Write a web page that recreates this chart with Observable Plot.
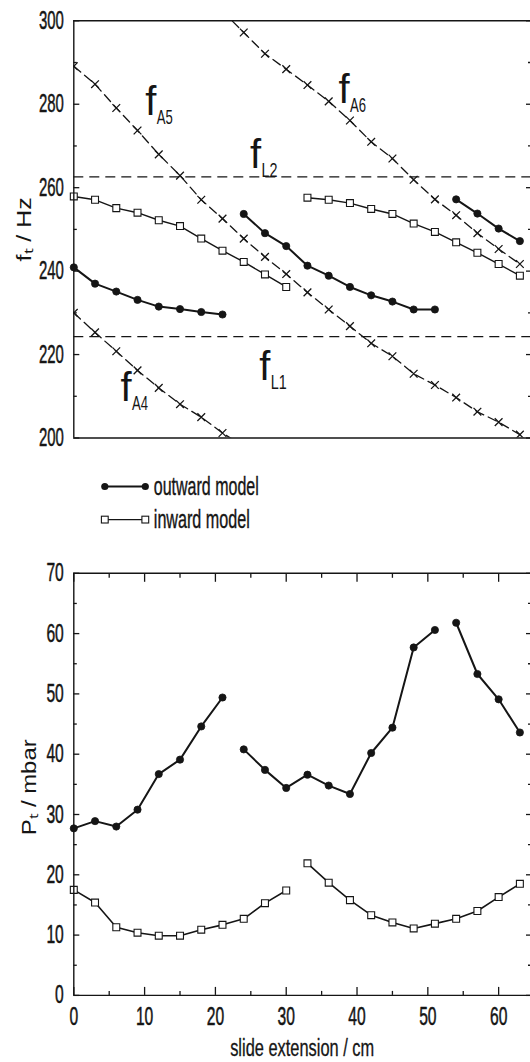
<!DOCTYPE html>
<html><head><meta charset="utf-8">
<script src="https://cdn.jsdelivr.net/npm/d3@7"></script>
<script src="https://cdn.jsdelivr.net/npm/@observablehq/plot@0.6"></script>
<style>
body{margin:0;background:#fff;}
#wrap{position:relative;width:530px;height:1062px;overflow:hidden;background:#fff;}
#wrap > *{position:absolute;left:0;}
</style></head><body><div id="wrap"></div>
<script>
// ---------- data ----------
const slidePositions = [0,3,6,9,12,15,18,21,24,27,30,33,36,39,42,45,48,51,54,57,60,63];
const outwardSegment = [1,1,1,1,1,1,1,1, 2,2,2,2,2,2,2,2,2,2, 3,3,3,3];
const inwardSegment  = [1,1,1,1,1,1,1,1,1,1,1, 2,2,2,2,2,2,2,2,2,2,2];

// threshold frequency f_t / Hz
const outwardFreq = [240.9,237.0,235.1,233.1,231.5,230.9,230.2,229.6, 253.7,249.1,246.0,241.3,238.9,236.2,234.2,232.7,230.8,230.8, 257.2,253.8,250.2,247.2];
const inwardFreq  = [257.9,257.1,255.1,254.0,252.2,250.8,247.8,244.9,242.2,239.2,236.2, 257.6,257.1,256.3,254.9,253.7,251.4,249.4,246.9,244.4,241.7,238.9];

// resonance curves (dashed)
const fA5Slide = [0,3,6,9,12,15,18,21,24,27,30,33,36,39,42,45,48,51,54,57,60,63];
const fA5 = [289.1,284.8,279.1,273.7,268.0,262.9,257.1,252.6,247.8,243.4,239.3,234.9,230.8,226.8,222.7,219.6,215.4,212.7,209.7,206.3,203.8,200.8];
const fA4Slide = [0,3,6,9,12,15,18,21,24];
const fA4 = [230.0,225.3,220.8,216.2,212.0,208.1,205.0,201.2,198.0];
const fA6Slide = [21,24,27,30,33,36,39,42,45,48,51,54,57,60,63];
const fA6 = [302.3,297.2,292.1,288.4,284.6,280.7,276.1,271.0,267.0,261.9,257.2,253.4,249.1,245.3,241.7];
const fLNames = ["L1","L2"];
const fL = [224.3, 262.6];

// curve labels
const curveNames = ["A5","A6","L2","L1","A4"];
const curveLabelSlide = [10.1, 37.4, 24.9, 26.2, 6.6];
const curveLabelFreq  = [277.5, 280.4, 264.6, 214.0, 208.8];

// threshold pressure P_t / mbar
const outwardPressure = [27.7,28.9,28.0,30.8,36.7,39.1,44.6,49.4, 40.8,37.4,34.4,36.6,34.8,33.4,40.2,44.4,57.7,60.6, 61.8,53.3,49.1,43.6];
const inwardPressure  = [17.5,15.4,11.3,10.4,9.9,9.9,10.9,11.7,12.7,15.3,17.4, 21.9,18.7,15.8,13.3,12.1,11.1,11.9,12.7,14.0,16.3,18.5];

// ticks
const freqMajorTicks = [200,220,240,260,280,300];
const freqMinorTicks = [210,230,250,270,290];
const pressMajorTicks = [0,10,20,30,40,50,60,70];
const pressMinorTicks = [5,15,25,35,45,55,65];
const slideMajorTicks = [0,10,20,30,40,50,60];
const slideMinorTicks = [5,15,25,35,45,55];

const legendLabels = ["outward model","inward model"];
const freqTitle = "fₜ / Hz";
const pressTitle = "Pₜ / mbar";
const slideTitle = "slide extension / cm";

// ---------- helpers ----------
const INK = "#151515";
const FONT = '"Liberation Sans", Arial, Helvetica, sans-serif';
const rowsOf = (xs, ys, zs) => xs.map((x, i) => ({x, y: ys[i], z: zs ? zs[i] : 0}));

const outF = rowsOf(slidePositions, outwardFreq, outwardSegment);
const inF  = rowsOf(slidePositions, inwardFreq, inwardSegment);
const outP = rowsOf(slidePositions, outwardPressure, outwardSegment);
const inP  = rowsOf(slidePositions, inwardPressure, inwardSegment);
const a5 = rowsOf(fA5Slide, fA5), a4 = rowsOf(fA4Slide, fA4), a6 = rowsOf(fA6Slide, fA6);
const curveLabels = curveNames.map((n, i) => ({n, x: curveLabelSlide[i], y: curveLabelFreq[i]}));

// squeeze texts to the narrow type of the original
function fit(svg, widthFor) {
  svg.querySelectorAll("text").forEach(t => {
    const g = t.closest("g");
    const lab = g ? (g.getAttribute("aria-description") || g.getAttribute("aria-label") || "") : "";
    const w = widthFor(lab, t.textContent);
    if (w) {
      t.setAttribute("textLength", w);
      t.setAttribute("lengthAdjust", "spacingAndGlyphs");
    }
  });
}

function yAxes(major, minor) {
  return [
    Plot.axisY(major, {anchor: "left", tickSize: 0, tickPadding: 10, fontSize: 25, label: null, fill: INK, textStroke: INK, textStrokeWidth: 0.5}),
    Plot.axisY(major, {anchor: "left", tickSize: -6, fill: "none", label: null, stroke: INK, strokeWidth: 1.3}),
    Plot.axisY(minor, {anchor: "left", tickSize: -3.5, fill: "none", label: null, stroke: INK, strokeWidth: 1.3}),
    Plot.axisY(major, {anchor: "right", tickSize: -5, fill: "none", label: null, stroke: INK, strokeWidth: 1.3}),
    Plot.axisY(minor, {anchor: "right", tickSize: -3, fill: "none", label: null, stroke: INK, strokeWidth: 1.3})
  ];
}

const common = {
  width: 530, marginLeft: 73.3, marginRight: 0,
  style: {fontFamily: FONT, color: INK, background: "transparent", overflow: "visible"}
};

// ---------- top panel: frequency ----------
const freqChart = Plot.plot({
  ...common,
  height: 440, marginTop: 20.3, marginBottom: 2.5,
  x: {domain: [0, 64.5], axis: null},
  y: {domain: [200, 300], axis: null},
  marks: [
    ...yAxes(freqMajorTicks, freqMinorTicks),
    Plot.ruleY(fL, {stroke: INK, strokeWidth: 1.3, strokeDasharray: "10,6"}),
    Plot.line(a5, {x: "x", y: "y", stroke: INK, strokeWidth: 1.3, strokeDasharray: "9,5", clip: true}),
    Plot.line(a4, {x: "x", y: "y", stroke: INK, strokeWidth: 1.3, strokeDasharray: "9,5", clip: true}),
    Plot.line(a6, {x: "x", y: "y", stroke: INK, strokeWidth: 1.3, strokeDasharray: "9,5", clip: true}),
    Plot.dot(a5, {x: "x", y: "y", symbol: "times", r: 3.6, stroke: INK, strokeWidth: 1.3, clip: true}),
    Plot.dot(a4, {x: "x", y: "y", symbol: "times", r: 3.6, stroke: INK, strokeWidth: 1.3, clip: true}),
    Plot.dot(a6, {x: "x", y: "y", symbol: "times", r: 3.6, stroke: INK, strokeWidth: 1.3, clip: true}),
    Plot.line(inF, {x: "x", y: "y", z: "z", stroke: INK, strokeWidth: 1.4}),
    Plot.dot(inF, {x: "x", y: "y", symbol: "square", r: 3.9, fill: "white", stroke: INK, strokeWidth: 1.1}),
    Plot.line(outF, {x: "x", y: "y", z: "z", stroke: INK, strokeWidth: 2}),
    Plot.dot(outF, {x: "x", y: "y", r: 3.6, fill: INK, stroke: INK, strokeWidth: 0.8}),
    Plot.ruleY([200, 300], {stroke: INK, strokeWidth: 1.4}),
    Plot.ruleX([0], {stroke: INK, strokeWidth: 1.4}),
    Plot.text(curveLabels, {x: "x", y: "y", text: () => "f", textAnchor: "start", lineAnchor: "bottom", fontSize: 40, fill: INK, ariaDescription: "curve-f"}),
    Plot.text(curveLabels, {x: "x", y: "y", text: "n", textAnchor: "start", lineAnchor: "bottom", dx: 11.5, dy: 9, fontSize: 21, fill: INK, ariaDescription: "curve-sub"}),
    Plot.text([freqTitle], {frameAnchor: "left", text: d => d, rotate: -90, dx: -49.3, textAnchor: "middle", lineAnchor: "middle", fontSize: 21, fill: INK, ariaDescription: "y-title"})
  ]
});
fit(freqChart, (lab, s) =>
  lab === "y-axis tick label" ? 8.3 * s.length :
  lab === "curve-sub" ? 16 :
  lab === "y-title" ? 64 : 0);
freqChart.style.top = "0px";

// ---------- legend ----------
const legend = d3.create("svg").attr("width", 530).attr("height", 110)
  .style("top", "440px").style("font-family", FONT);
const rowsY = [46.5, 79.6];
const legendWidths = [105, 96];
legendLabels.forEach((lab, i) => {
  const g = legend.append("g").attr("transform", `translate(0,${rowsY[i]})`);
  g.append("line").attr("x1", 104.8).attr("x2", 145.3).attr("y1", 0).attr("y2", 0)
    .attr("stroke", INK).attr("stroke-width", i === 0 ? 2 : 1.4);
  [104.8, 145.3].forEach(cx => {
    if (i === 0) g.append("circle").attr("cx", cx).attr("cy", 0).attr("r", 3.6).attr("fill", INK);
    else g.append("rect").attr("x", cx - 3.4).attr("y", -3.4).attr("width", 6.8).attr("height", 6.8)
      .attr("fill", "white").attr("stroke", INK).attr("stroke-width", 1.1);
  });
  g.append("text").attr("x", 153.8).attr("y", 8.5)
    .attr("font-size", 26).attr("fill", INK).attr("stroke", INK).attr("stroke-width", 0.4)
    .attr("textLength", legendWidths[i]).attr("lengthAdjust", "spacingAndGlyphs").text(lab);
});

// ---------- bottom panel: pressure ----------
const pressChart = Plot.plot({
  ...common,
  height: 507, marginTop: 17.8, marginBottom: 67.1,
  x: {domain: [0, 64.5]},
  y: {domain: [0, 70]},
  marks: [
    ...yAxes(pressMajorTicks, pressMinorTicks),
    Plot.axisX(slideMajorTicks, {anchor: "bottom", tickSize: 0, tickPadding: 12, fontSize: 25, label: null, fill: INK, textStroke: INK, textStrokeWidth: 0.5}),
    Plot.axisX(slideMajorTicks, {anchor: "bottom", tickSize: -8, fill: "none", label: null, stroke: INK, strokeWidth: 1.3}),
    Plot.axisX(slideMinorTicks, {anchor: "bottom", tickSize: -4, fill: "none", label: null, stroke: INK, strokeWidth: 1.3}),
    Plot.axisX(slideMajorTicks, {anchor: "top", tickSize: -8, fill: "none", label: null, stroke: INK, strokeWidth: 1.3}),
    Plot.axisX(slideMinorTicks, {anchor: "top", tickSize: -4, fill: "none", label: null, stroke: INK, strokeWidth: 1.3}),
    Plot.line(inP, {x: "x", y: "y", z: "z", stroke: INK, strokeWidth: 1.6}),
    Plot.dot(inP, {x: "x", y: "y", symbol: "square", r: 3.9, fill: "white", stroke: INK, strokeWidth: 1.1}),
    Plot.line(outP, {x: "x", y: "y", z: "z", stroke: INK, strokeWidth: 2}),
    Plot.dot(outP, {x: "x", y: "y", r: 3.6, fill: INK, stroke: INK, strokeWidth: 0.8}),
    Plot.ruleY([0, 70], {stroke: INK, strokeWidth: 1.4}),
    Plot.ruleX([0], {stroke: INK, strokeWidth: 1.4}),
    Plot.text([pressTitle], {frameAnchor: "left", text: d => d, rotate: -90, dx: -44.3, dy: 3, textAnchor: "middle", lineAnchor: "middle", fontSize: 21, fill: INK, ariaDescription: "y-title"}),
    Plot.text([slideTitle], {frameAnchor: "bottom", text: d => d, dy: 61, lineAnchor: "bottom", textAnchor: "middle", fontSize: 23, fill: INK, stroke: INK, strokeWidth: 0.3, ariaDescription: "x-title"})
  ]
});
fit(pressChart, (lab, s) =>
  lab === "y-axis tick label" || lab === "x-axis tick label" ? 8.7 * s.length :
  lab === "y-title" ? 96 :
  lab === "x-title" ? 144 : 0);
pressChart.style.top = "555px";

const wrap = document.getElementById("wrap");
wrap.appendChild(freqChart);
wrap.appendChild(legend.node());
wrap.appendChild(pressChart);
</script></body></html>
